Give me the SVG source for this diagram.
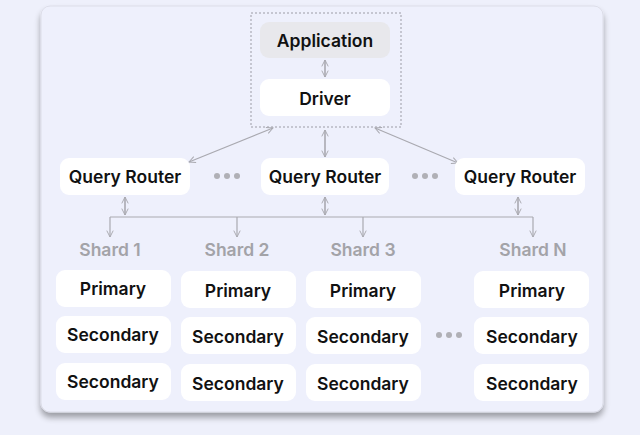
<svg xmlns="http://www.w3.org/2000/svg" width="640" height="435" viewBox="0 0 640 435">
<defs>
<marker id="ah" viewBox="0 0 10 10" refX="9" refY="5" markerWidth="8" markerHeight="8" orient="auto-start-reverse" markerUnits="userSpaceOnUse">
<path d="M1,1 L9,5 L1,9" fill="none" stroke="#a9a9b0" stroke-width="1.2"/>
</marker>
<filter id="sh" x="-10%" y="-10%" width="120%" height="120%">
<feGaussianBlur in="SourceAlpha" stdDeviation="3"/>
<feOffset dx="0" dy="5"/>
<feComponentTransfer><feFuncA type="linear" slope="0.35"/></feComponentTransfer>
<feMerge><feMergeNode/><feMergeNode in="SourceGraphic"/></feMerge>
</filter>
</defs>
<style>
.box{fill:#ffffff;}
.app{fill:#e8e8ec;}
.t{font-family:Inter,"Open Sans","Liberation Sans",sans-serif;font-weight:600;font-size:17.5px;fill:#111;text-anchor:middle;dominant-baseline:central;}
.s{font-family:Inter,"Open Sans","Liberation Sans",sans-serif;font-weight:600;font-size:17.5px;fill:#a3a3a8;text-anchor:middle;dominant-baseline:central;}
.c{fill:none;stroke:#a9a9b0;stroke-width:1.2;}
.cd{fill:none;stroke:#a9a9b0;stroke-width:1.6;}
.dot{fill:#b0b0b6;}
</style>
<rect width="640" height="435" fill="#eef0fb"/>
<rect x="41" y="6" width="562" height="406" rx="9" fill="#eef0fc" stroke="#dcdde8" stroke-width="1" filter="url(#sh)"/>
<rect x="251" y="13" width="150" height="114" fill="none" stroke="#9c9ca6" stroke-width="1" stroke-dasharray="2,2"/>

<g id="connectors">
<line class="cd" x1="325" y1="60" x2="325" y2="77" marker-start="url(#ah)" marker-end="url(#ah)"/>
<line class="c" x1="273" y1="128" x2="189" y2="162" marker-start="url(#ah)" marker-end="url(#ah)"/>
<line class="c" x1="375" y1="128" x2="458" y2="163" marker-start="url(#ah)" marker-end="url(#ah)"/>
<line class="cd" x1="325" y1="130" x2="325" y2="157" marker-start="url(#ah)" marker-end="url(#ah)"/>
<line class="cd" x1="125" y1="197" x2="125" y2="215" marker-start="url(#ah)" marker-end="url(#ah)"/>
<line class="cd" x1="325" y1="197" x2="325" y2="215" marker-start="url(#ah)" marker-end="url(#ah)"/>
<line class="cd" x1="518" y1="197" x2="518" y2="215" marker-start="url(#ah)" marker-end="url(#ah)"/>
<line class="c" x1="110" y1="217" x2="533" y2="217"/>
<line class="c" x1="110" y1="217" x2="110" y2="237" marker-end="url(#ah)"/>
<line class="c" x1="237" y1="217" x2="237" y2="237" marker-end="url(#ah)"/>
<line class="c" x1="363" y1="217" x2="363" y2="237" marker-end="url(#ah)"/>
<line class="c" x1="533" y1="217" x2="533" y2="237" marker-end="url(#ah)"/>
</g>

<g id="application"><rect class="app" x="260" y="22" width="130" height="36" rx="9"/><text class="t" x="325" y="40">Application</text></g>
<g id="driver"><rect class="box" x="260" y="79" width="130" height="37" rx="9"/><text class="t" x="325" y="98">Driver</text></g>

<g id="router1"><rect class="box" x="60" y="158" width="130" height="37" rx="9"/><text class="t" x="125" y="176">Query Router</text></g>
<g id="router2"><rect class="box" x="261" y="158" width="128" height="37" rx="9"/><text class="t" x="325" y="176">Query Router</text></g>
<g id="router3"><rect class="box" x="455" y="158" width="130" height="37" rx="9"/><text class="t" x="520" y="176">Query Router</text></g>

<g id="dots1"><circle class="dot" cx="217" cy="176" r="3"/><circle class="dot" cx="227" cy="176" r="3"/><circle class="dot" cx="237" cy="176" r="3"/></g>
<g id="dots2"><circle class="dot" cx="415" cy="176" r="3"/><circle class="dot" cx="425" cy="176" r="3"/><circle class="dot" cx="435" cy="176" r="3"/></g>
<g id="dots3"><circle class="dot" cx="439" cy="335" r="3"/><circle class="dot" cx="449" cy="335" r="3"/><circle class="dot" cx="459" cy="335" r="3"/></g>

<g id="shard1-label"><text class="s" x="110" y="249">Shard 1</text></g>
<g id="shard2-label"><text class="s" x="237" y="249">Shard 2</text></g>
<g id="shard3-label"><text class="s" x="363" y="249">Shard 3</text></g>
<g id="shardN-label"><text class="s" x="533" y="249">Shard N</text></g>

<g id="s1-primary"><rect class="box" x="56" y="270" width="115" height="37" rx="9"/><text class="t" x="113" y="288">Primary</text></g>
<g id="s1-secondary1"><rect class="box" x="56" y="316" width="115" height="37" rx="9"/><text class="t" x="113" y="334">Secondary</text></g>
<g id="s1-secondary2"><rect class="box" x="56" y="363" width="115" height="37" rx="9"/><text class="t" x="113" y="381">Secondary</text></g>

<g id="s2-primary"><rect class="box" x="181" y="271" width="115" height="37" rx="9"/><text class="t" x="238" y="290">Primary</text></g>
<g id="s2-secondary1"><rect class="box" x="181" y="317" width="115" height="37" rx="9"/><text class="t" x="238" y="336">Secondary</text></g>
<g id="s2-secondary2"><rect class="box" x="181" y="364" width="115" height="37" rx="9"/><text class="t" x="238" y="383">Secondary</text></g>

<g id="s3-primary"><rect class="box" x="306" y="271" width="115" height="37" rx="9"/><text class="t" x="363" y="290">Primary</text></g>
<g id="s3-secondary1"><rect class="box" x="306" y="317" width="115" height="37" rx="9"/><text class="t" x="363" y="336">Secondary</text></g>
<g id="s3-secondary2"><rect class="box" x="306" y="364" width="115" height="37" rx="9"/><text class="t" x="363" y="383">Secondary</text></g>

<g id="sN-primary"><rect class="box" x="474" y="271" width="115" height="37" rx="9"/><text class="t" x="532" y="290">Primary</text></g>
<g id="sN-secondary1"><rect class="box" x="474" y="317" width="115" height="37" rx="9"/><text class="t" x="532" y="336">Secondary</text></g>
<g id="sN-secondary2"><rect class="box" x="474" y="364" width="115" height="37" rx="9"/><text class="t" x="532" y="383">Secondary</text></g>
</svg>
